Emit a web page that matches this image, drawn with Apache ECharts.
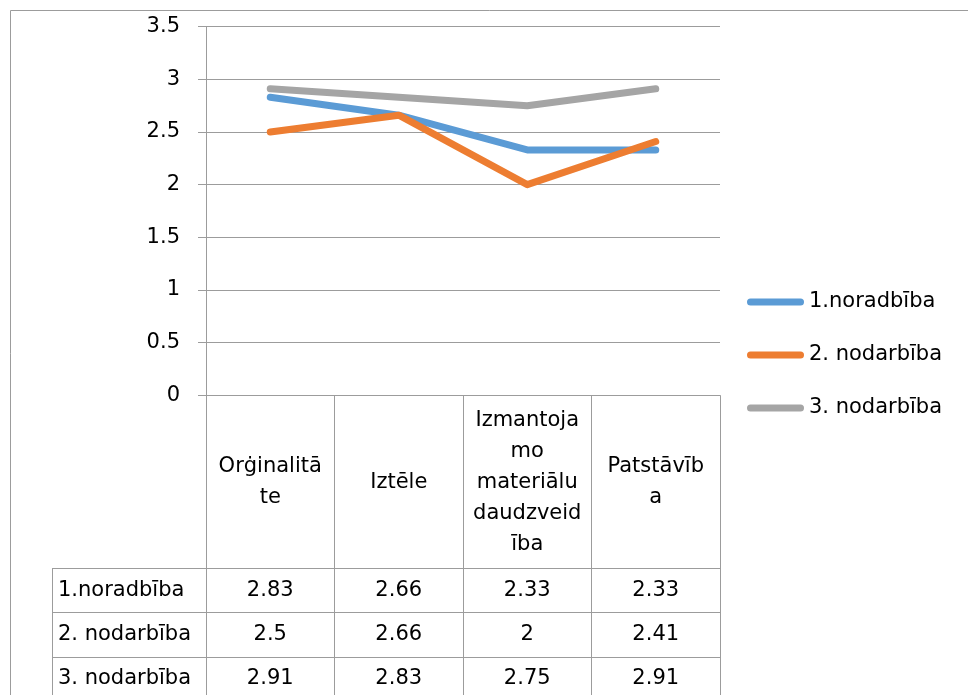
<!DOCTYPE html>
<html><head><meta charset="utf-8">
<script src="https://cdn.jsdelivr.net/npm/echarts@6/dist/echarts.min.js"></script>
<style>html,body{margin:0;padding:0;background:#fff}#c{width:968px;height:695px}</style>
</head><body><div id="c"></div>
<script>
// ---- data ----
const categories = ['Orġinalitāte', 'Iztēle', 'Izmantojamo materiālu daudzveidība', 'Patstāvība'];
const categoryLabels = ['Orġinalitā\nte', 'Iztēle', 'Izmantoja\nmo\nmateriālu\ndaudzveid\nība', 'Patstāvīb\na'];
const seriesNames = ['1.noradbība', '2. nodarbība', '3. nodarbība'];
const series1 = [2.83, 2.66, 2.33, 2.33];
const series2 = [2.5, 2.66, 2, 2.41];
const series3 = [2.91, 2.83, 2.75, 2.91];
const tableText1 = ['2.83', '2.66', '2.33', '2.33'];
const tableText2 = ['2.5', '2.66', '2', '2.41'];
const tableText3 = ['2.91', '2.83', '2.75', '2.91'];
const yMin = 0, yMax = 3.5, yStep = 0.5;

// ---- style ----
const FONT = 'DejaVu Sans';
const FS = 21;
const GRID = '#9c9c9c';
const colors = ['#5B9BD5', '#ED7D31', '#A5A5A5'];

const chart = echarts.init(document.getElementById('c'), null, {renderer: 'canvas'});
const allValues = [series1, series2, series3];
const allText = [tableText1, tableText2, tableText3];

const option = {
  animation: false,
  backgroundColor: '#fff',
  color: colors,
  textStyle: {fontFamily: FONT, fontSize: FS, color: '#000'},
  grid: {left: 206, top: 26.7, width: 514, height: 368.6, containLabel: false},
  legend: {
    orient: 'vertical', left: 747, top: 290, padding: 0,
    itemWidth: 57, itemHeight: 7, itemGap: 29,
    icon: 'path://M3.5,0L53.5,0A3.5,3.5,0,0,1,53.5,7L3.5,7A3.5,3.5,0,0,1,3.5,0Z',
    textStyle: {fontFamily: FONT, fontSize: FS, color: '#000', lineHeight: 24},
    data: seriesNames
  },
  xAxis: {
    type: 'category', data: categories, boundaryGap: true,
    axisLine: {show: true, lineStyle: {color: GRID, width: 1}},
    axisTick: {show: true, interval: 0, length: 310, lineStyle: {color: GRID, width: 1}},
    axisLabel: {
      interval: 0, margin: 87, verticalAlign: 'middle', align: 'center',
      fontFamily: FONT, fontSize: FS, color: '#000', lineHeight: 31,
      formatter: (v, i) => categoryLabels[i]
    },
    splitLine: {show: false}
  },
  yAxis: {
    type: 'value', min: yMin, max: yMax, interval: yStep,
    axisLine: {show: true, lineStyle: {color: GRID, width: 1}},
    axisTick: {show: true, length: 8, lineStyle: {color: GRID, width: 1}},
    axisLabel: {margin: 26, fontFamily: FONT, fontSize: FS, color: '#000'},
    splitLine: {show: true, lineStyle: {color: GRID, width: 1}}
  },
  series: seriesNames.map((name, k) => ({
    name, type: 'line', data: allValues[k], symbol: 'none',
    lineStyle: {width: 7, color: colors[k], cap: 'round', join: 'round'},
    itemStyle: {color: colors[k]}
  }))
};
chart.setOption(option);

// ---- data table below the plot ----
const headerBottom = 568;
const rowH = 44.3;
const tableLeft = 52;
const gridRect = chart.getModel().getComponent('grid').coordinateSystem.getRect();
const rightX = gridRect.x + gridRect.width;
const els = [];
els.push({type: 'rect', shape: {x: 10.5, y: 10.5, width: 1000, height: 1000},
  style: {fill: 'none', stroke: GRID, lineWidth: 1}, silent: true, z: 0});
for (let r = 0; r < 3; r++) {
  const y = Math.round(headerBottom + r * rowH) + 0.5;
  els.push({type: 'line', shape: {x1: tableLeft, y1: y, x2: rightX, y2: y},
    style: {stroke: GRID, lineWidth: 1}, silent: true});
}
els.push({type: 'line', shape: {x1: tableLeft + 0.5, y1: headerBottom, x2: tableLeft + 0.5, y2: 700},
  style: {stroke: GRID, lineWidth: 1}, silent: true});
for (let r = 0; r < 3; r++) {
  const cy = headerBottom + r * rowH + rowH / 2;
  els.push({type: 'text', x: tableLeft + 6, y: cy,
    style: {text: seriesNames[r], font: FS + 'px "' + FONT + '"', fill: '#000', textAlign: 'left', textVerticalAlign: 'middle'}, silent: true});
  for (let c = 0; c < categories.length; c++) {
    const px = chart.convertToPixel({xAxisIndex: 0}, categories[c]);
    els.push({type: 'text', x: px, y: cy,
      style: {text: allText[r][c], font: FS + 'px "' + FONT + '"', fill: '#000', textAlign: 'center', textVerticalAlign: 'middle'}, silent: true});
  }
}
chart.setOption({graphic: {elements: els}});
</script></body></html>
